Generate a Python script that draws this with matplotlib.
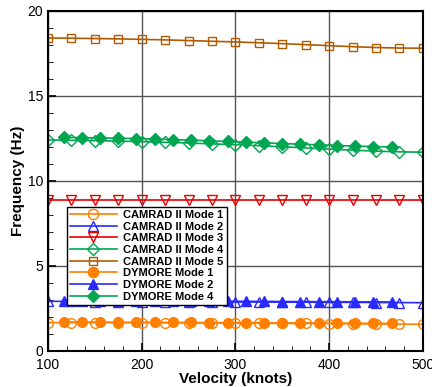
import matplotlib.pyplot as plt
import numpy as np
from matplotlib.ticker import MultipleLocator

plt.rcParams['font.family'] = ['Liberation Sans', 'DejaVu Sans']

# CAMRAD II, every 25 knots
v_cam = [100, 125, 150, 175, 200, 225, 250, 275, 300, 325, 350, 375, 400, 425, 450, 475, 500]
cam_m1 = [1.65, 1.65, 1.65, 1.64, 1.64, 1.63, 1.63, 1.62, 1.61, 1.61, 1.60, 1.60, 1.59, 1.58, 1.57, 1.56, 1.55]
cam_m2 = [2.90, 2.90, 2.89, 2.89, 2.88, 2.88, 2.87, 2.87, 2.86, 2.86, 2.85, 2.85, 2.84, 2.84, 2.83, 2.83, 2.82]
cam_m3 = [8.85, 8.85, 8.85, 8.85, 8.85, 8.85, 8.85, 8.85, 8.85, 8.85, 8.85, 8.85, 8.85, 8.85, 8.85, 8.85, 8.85]
cam_m4 = [12.40, 12.38, 12.36, 12.33, 12.30, 12.26, 12.22, 12.17, 12.12, 12.06, 12.00, 11.93, 11.86, 11.80, 11.74, 11.70, 11.68]
cam_m5 = [18.40, 18.39, 18.37, 18.35, 18.32, 18.29, 18.25, 18.21, 18.17, 18.12, 18.07, 18.01, 17.95, 17.89, 17.84, 17.81, 17.80]

# DYMORE, every 10 m/s (60..240 m/s)
v_dym = [116.6, 136.1, 155.5, 174.9, 194.4, 213.8, 233.3, 252.7, 272.2, 291.6,
         311.0, 330.5, 349.9, 369.4, 388.8, 408.2, 427.7, 447.1, 466.6]
dym_m1 = [1.68, 1.68, 1.68, 1.67, 1.67, 1.67, 1.66, 1.66, 1.65, 1.65,
          1.64, 1.64, 1.63, 1.63, 1.62, 1.62, 1.61, 1.61, 1.60]
dym_m2 = [2.95, 2.95, 2.94, 2.94, 2.93, 2.93, 2.92, 2.92, 2.91, 2.91,
          2.90, 2.90, 2.89, 2.89, 2.88, 2.88, 2.87, 2.87, 2.86]
dym_m4 = [12.55, 12.54, 12.52, 12.50, 12.48, 12.45, 12.42, 12.39, 12.35, 12.31,
          12.27, 12.23, 12.19, 12.15, 12.11, 12.07, 12.04, 12.01, 11.99]

orange = '#ff8000'
blue = '#2a2aff'
red = '#e60000'
green = '#00a650'
brown = '#b35a00'

fig = plt.figure(figsize=(4.32, 3.87), dpi=100)
ax = fig.add_axes([0.111, 0.094, 0.868, 0.878])

ms = 7
ax.plot(v_cam, cam_m1, color=orange, marker='o', ms=ms, mfc='none', lw=1.2, label='CAMRAD II Mode 1')
ax.plot(v_cam, cam_m2, color=blue, marker='^', ms=ms, mfc='none', lw=1.2, label='CAMRAD II Mode 2')
ax.plot(v_cam, cam_m3, color=red, marker='v', ms=ms, mfc='none', lw=1.2, label='CAMRAD II Mode 3')
ax.plot(v_cam, cam_m4, color=green, marker='D', ms=ms * 0.85, mfc='none', lw=1.2, label='CAMRAD II Mode 4')
ax.plot(v_cam, cam_m5, color=brown, marker='s', ms=ms * 0.85, mfc='none', lw=1.2, label='CAMRAD II Mode 5')
ax.plot(v_dym, dym_m1, color=orange, marker='o', ms=ms, lw=1.2, label='DYMORE Mode 1')
ax.plot(v_dym, dym_m2, color=blue, marker='^', ms=ms, lw=1.2, label='DYMORE Mode 2')
ax.plot(v_dym, dym_m4, color=green, marker='D', ms=ms * 0.85, lw=1.2, label='DYMORE Mode 4')

ax.set_xlim(100, 500)
ax.set_ylim(0, 20)
ax.xaxis.set_major_locator(MultipleLocator(100))
ax.xaxis.set_minor_locator(MultipleLocator(20))
ax.yaxis.set_major_locator(MultipleLocator(5))
ax.yaxis.set_minor_locator(MultipleLocator(1))
ax.tick_params(which='both', direction='in', labelsize=10)
ax.tick_params(which='major', length=6, width=1.2)
ax.tick_params(which='minor', length=3.5)
ax.tick_params(axis='x', pad=5)
ax.grid(True, which='major', color='#555555', lw=1.0)
ax.set_axisbelow(True)
for s in ax.spines.values():
    s.set_linewidth(1.5)

ax.set_xlabel('Velocity (knots)', fontsize=11, fontweight='bold', labelpad=0)
ax.set_ylabel('Frequency (Hz)', fontsize=11, fontweight='bold', labelpad=2)

leg = ax.legend(loc='upper left', bbox_to_anchor=(0.035, 0.44), prop={'weight': 'bold', 'size': 8},
                fancybox=False, edgecolor='black', handlelength=4.2, labelspacing=0.15,
                borderpad=0.3, handletextpad=0.6, framealpha=1, markerscale=1.05)
leg.get_frame().set_linewidth(1.0)

plt.savefig('out.png')
